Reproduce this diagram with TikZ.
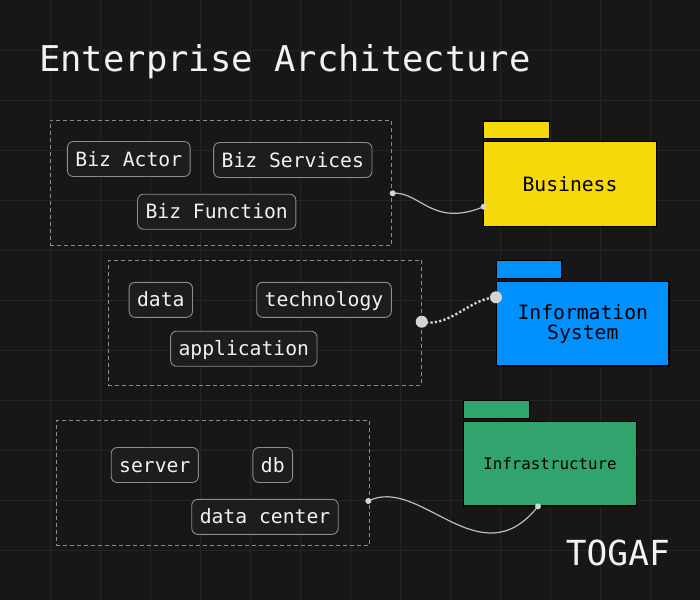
\documentclass[tikz,border=0pt]{standalone}
\usepackage{fontspec}
\setmonofont{DejaVu Sans Mono}
\usetikzlibrary{calc}
\definecolor{bgc}{HTML}{171717}
\definecolor{gridc}{HTML}{242424}
\definecolor{itemfill}{HTML}{1D1D1D}
\definecolor{itemdraw}{HTML}{8C8C8C}
\definecolor{txtc}{HTML}{F2F2F2}
\definecolor{linec}{HTML}{BDBDBD}
\definecolor{dotc}{HTML}{D4D4D4}
\definecolor{bizc}{HTML}{F5D90A}
\definecolor{infoc}{HTML}{0090FF}
\definecolor{infrac}{HTML}{30A46C}
\begin{document}
\begin{tikzpicture}[x=1pt,y=-1pt,
  item/.style={draw=itemdraw, fill=itemfill, line width=0.9pt, rounded corners=6pt,
    text=txtc, font=\ttfamily\fontsize{19.7}{20}\selectfont,
    inner xsep=8pt, inner ysep=0pt, text height=18pt, text depth=4pt, minimum height=35pt},
  group/.style={draw=itemdraw, line width=0.8pt, dash pattern=on 4pt off 3pt,
    minimum width=#1, minimum height=125pt, inner sep=0pt},
  folderbody/.style={draw=black, line width=1.4pt, fill=#1,
    minimum width=172.5pt, minimum height=84.5pt, inner sep=0pt, text=black,
    font=\ttfamily\fontsize{19.7}{20}\selectfont, align=center},
  foldertab/.style={draw=black, line width=1.4pt, fill=#1,
    minimum width=65.5pt, minimum height=17.8pt, inner sep=0pt, anchor=south west},
  wire/.style={draw=linec, line width=1.2pt},
  dotwire/.style={draw=dotc, line width=2.4pt, dash pattern=on 2.2pt off 2.2pt},
  smalldot/.style={fill=dotc},
]
\useasboundingbox (0,0) rectangle (700,600);
\fill[bgc] (0,0) rectangle (700,600);
\foreach \k in {50,100,...,650} \draw[gridc, line width=0.8pt] (\k,0) -- (\k,600);
\foreach \k in {50,100,...,550} \draw[gridc, line width=0.8pt] (0,\k) -- (700,\k);

% title and brand
\node[anchor=base west, inner sep=0pt, text=txtc, font=\ttfamily\fontsize{35.5}{36}\selectfont]
  (title) at (39,71) {Enterprise Architecture};
\node[anchor=base east, inner sep=0pt, text=txtc, font=\ttfamily\fontsize{34.5}{36}\selectfont]
  (togaf) at (670,565) {TOGAF};

% groups
\node[group=341.7pt, minimum height=124.7pt] (g1) at (220.8,182.7) {};
\node[group=313.4pt, minimum height=124.7pt] (g2) at (265,322.7) {};
\node[group=313.4pt] (g3) at (213,482.8) {};

% items
\node[item] (actor) at (128.8,159) {Biz Actor};
\node[item] (services) at (292.8,160) {Biz Services};
\node[item] (function) at (216.7,211.7) {Biz Function};
\node[item] (data) at (160.8,299.8) {data};
\node[item] (tech) at (324,299.8) {technology};
\node[item] (app) at (243.8,348.7) {application};
\node[item] (server) at (154.8,465) {server};
\node[item] (db) at (272.8,465) {db};
\node[item] (dc) at (265,516.8) {data center};

% folders
\node[folderbody=bizc] (biz) at (570,184) {Business};
\node[foldertab=bizc] (biztab) at ($(biz.north west)+(0,-1.6)$) {};
\node[folderbody=infoc, font=\ttfamily\fontsize{19.7}{20}\selectfont] (info) at (582.8,323.8) {Information\\System};
\node[foldertab=infoc] (infotab) at ($(info.north west)+(0,-1.6)$) {};
\node[folderbody=infrac, font=\ttfamily\fontsize{15.8}{18}\selectfont] (infra) at (550,463.8) {Infrastructure};
\node[foldertab=infrac] (infratab) at ($(infra.north west)+(0,-1.6)$) {};

% connector end points
\coordinate (c1a) at (392.7,193.3);
\coordinate (c1b) at (483.7,206.7);
\coordinate (c2a) at (421.7,321.7);
\coordinate (c2b) at (496,297.3);
\coordinate (c3a) at (368.3,501);
\coordinate (c3b) at (538,506.3);

\draw[wire] (c1a) .. controls (420,191) and (432,228) .. (c1b);
\draw[dotwire] (c2a) .. controls (450,328) and (470,298) .. (c2b);
\draw[wire] (c3a) .. controls (420,475) and (480,580) .. (c3b);

\fill[smalldot] (c1a) circle[radius=3pt];
\fill[smalldot] (c1b) circle[radius=3pt];
\fill[smalldot] (c2a) circle[radius=6pt];
\fill[smalldot] (c2b) circle[radius=6pt];
\fill[smalldot] (c3a) circle[radius=3pt];
\fill[smalldot] (c3b) circle[radius=3pt];
\end{tikzpicture}
\end{document}
